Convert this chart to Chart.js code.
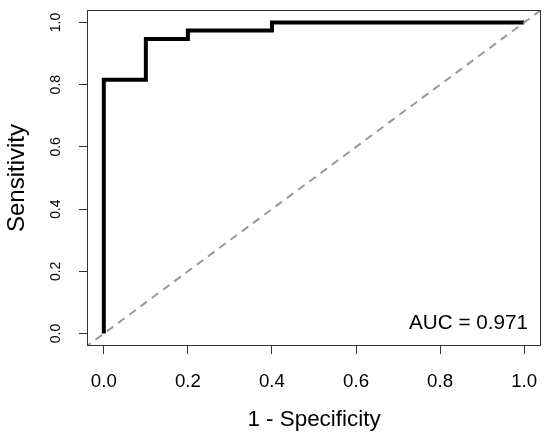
<!DOCTYPE html>
<html>
<head>
<meta charset="utf-8">
<script src="https://cdn.jsdelivr.net/npm/chart.js@4/dist/chart.umd.min.js"></script>
<style>
  body { margin: 0; background: #fff; }
  #roc { display: block; }
</style>
</head>
<body>
<canvas id="roc" width="550" height="434"></canvas>
<script>
// ROC curve points (1 - specificity, sensitivity)
const fpr = [0, 0, 0.1, 0.1, 0.2, 0.2, 0.4, 0.4, 1.0];
const tpr = [0, 0.816, 0.816, 0.947, 0.947, 0.974, 0.974, 1.0, 1.0];

// reference diagonal (y = x), runs past the plot edges and gets clipped
const diagX = [-0.1, 1.1];
const diagY = [-0.1, 1.1];

const tickValues = [0, 0.2, 0.4, 0.6, 0.8, 1.0];
const aucLabel = 'AUC = 0.971';
const xTitle = '1 - Specificity';
const yTitle = 'Sensitivity';

const FONT = "'Liberation Sans', Arial, sans-serif";

// box around the plot region, like R's box()
const boxPlugin = {
  id: 'box',
  afterDatasetsDraw(chart) {
    const { ctx, chartArea: a } = chart;
    ctx.save();
    ctx.strokeStyle = '#333';
    ctx.lineWidth = 1;
    ctx.strokeRect(a.left + 0.5, a.top + 0.5, a.right - a.left - 1, a.bottom - a.top - 1);
    ctx.restore();
  },
};

const aucPlugin = {
  id: 'auc',
  afterDatasetsDraw(chart) {
    const { ctx, chartArea: a } = chart;
    ctx.save();
    ctx.fillStyle = '#000';
    ctx.font = '20.7px ' + FONT;
    ctx.textAlign = 'right';
    ctx.textBaseline = 'alphabetic';
    ctx.fillText(aucLabel, a.right - 13, a.bottom - 17);
    ctx.restore();
  },
};

const setTicks = (scale) => {
  scale.ticks = tickValues.map((v) => ({ value: v }));
};

// fixed axis sizes, no extra room for overhanging tick labels
const fixSize = (w, h) => (scale) => {
  if (w) scale.width = w;
  if (h) scale.height = h;
  scale.paddingTop = 0;
  scale.paddingBottom = 0;
  scale.paddingLeft = 0;
  scale.paddingRight = 0;
};

const data = {
  datasets: [
    {
      label: 'diagonal',
      data: diagX.map((x, i) => ({ x: x, y: diagY[i] })),
      borderColor: '#999',
      borderWidth: 2,
      borderDash: [8, 6],
      pointRadius: 0,
      fill: false,
    },
    {
      label: 'ROC',
      data: fpr.map((x, i) => ({ x: x, y: tpr[i] })),
      borderColor: '#000',
      borderWidth: 4,
      borderJoinStyle: 'miter',
      pointRadius: 0,
      fill: false,
    },
  ],
};

const config = {
  type: 'line',
  data: data,
  options: {
    responsive: false,
    animation: false,
    devicePixelRatio: 1,
    layout: {
      autoPadding: false,
      padding: { left: 0, right: 9, top: 10, bottom: 0 },
    },
    plugins: {
      legend: { display: false },
      tooltip: { enabled: false },
    },
    scales: {
      x: {
        type: 'linear',
        min: -0.04,
        max: 1.04,
        afterBuildTicks: setTicks,
        afterFit: fixSize(0, 88),
        border: { display: false },
        grid: {
          drawOnChartArea: false,
          drawTicks: true,
          tickLength: 8,
          color: '#333',
        },
        ticks: {
          padding: 16.5,
          color: '#000',
          font: { family: FONT, size: 18.7 },
          maxRotation: 0,
          callback: (v) => Number(v).toFixed(1),
        },
        title: {
          display: true,
          text: xTitle,
          color: '#000',
          font: { family: FONT, size: 22.4 },
          padding: { top: 0, bottom: 1 },
        },
      },
      y: {
        type: 'linear',
        min: -0.04,
        max: 1.04,
        afterBuildTicks: setTicks,
        afterFit: fixSize(87, 0),
        border: { display: false },
        grid: {
          drawOnChartArea: false,
          drawTicks: true,
          tickLength: 8,
          color: '#333',
        },
        ticks: {
          padding: 13,
          crossAlign: 'center',
          minRotation: 90,
          maxRotation: 90,
          color: '#000',
          font: { family: FONT, size: 14 },
          callback: (v) => Number(v).toFixed(1),
        },
        title: {
          display: true,
          text: yTitle,
          color: '#000',
          font: { family: FONT, size: 24 },
          padding: { top: 2.5, bottom: 0 },
        },
      },
    },
  },
  plugins: [boxPlugin, aucPlugin],
};

const rocChart = new Chart(document.getElementById('roc'), config);
</script>
</body>
</html>
